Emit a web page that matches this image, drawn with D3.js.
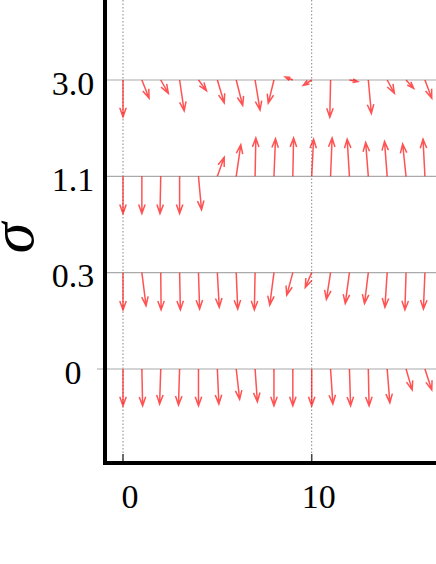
<!DOCTYPE html>
<html><head><meta charset="utf-8">
<script src="https://cdn.jsdelivr.net/npm/d3@7"></script>
<style>html,body{margin:0;padding:0;background:#fff;overflow:hidden}</style>
</head><body>
<svg id="c" width="436" height="564"></svg>
<script>
// Data
const categories = ['3.0', '1.1', '0.3', '0'];
const xPositions = [0, 1, 2, 3, 4, 5, 6, 7, 8, 9, 10, 11, 12, 13, 14, 15, 16];
const xTicks = [0, 10];
const u30 = [0, 0.19, 0.20, 0.12, 0.21, 0.18, 0.17, 0.13, -0.15, -0.20, -0.22, -0.02, 0.22, 0.08, 0.19, 0.20, 0.18];
const v30 = [-0.97, -0.48, -0.35, -0.81, -0.28, -0.60, -0.67, -0.79, -0.61, 0.08, -0.14, -0.98, -0.04, -0.88, -0.35, -0.22, -0.48];
const u11 = [0, 0, -0.02, 0, 0.08, 0.18, 0.12, 0.02, 0.04, 0.02, 0.05, 0.04, -0.06, -0.07, -0.07, -0.09, -0.05];
const v11 = [-0.98, -0.98, -0.98, -0.98, -0.88, 0.50, 0.83, 1.01, 0.99, 1.01, 0.98, 1.01, 0.98, 0.89, 0.92, 0.85, 0.98];
const u03 = [0, 0.11, 0.01, 0.02, 0.03, 0.05, 0.04, -0.02, -0.11, -0.16, -0.17, -0.11, -0.11, -0.10, -0.06, -0.03, -0.04];
const v03 = [-0.98, -0.87, -0.98, -0.98, -0.96, -0.91, -0.96, -0.98, -0.85, -0.59, -0.39, -0.70, -0.81, -0.81, -0.91, -0.98, -0.96];
const u00 = [0, 0.02, -0.03, -0.03, 0, 0.04, 0.09, 0.06, 0, 0, 0, 0.06, 0.03, 0.02, 0.07, 0.16, 0.18];
const v00 = [-0.97, -0.97, -0.92, -0.95, -0.97, -0.92, -0.80, -0.86, -0.97, -0.97, -0.97, -0.92, -0.97, -0.97, -0.89, -0.55, -0.55];
const uRows = [u30, u11, u03, u00];
const vRows = [v30, v11, v03, v00];

const svg = d3.select('#c');
const left = 105, bottom = 463;
const x = d3.scaleLinear().domain([0, 10]).range([123, 311.7]);
const y = d3.scalePoint().domain(categories).range([80, 369]);
const arrowScale = d3.scaleLinear().domain([0, 1]).range([0, 38]);
const font = "'Liberation Serif','Times New Roman',serif";

// vertical dotted grid
svg.append('g').selectAll('line').data(xTicks).join('line')
  .attr('x1', d => x(d)).attr('x2', d => x(d))
  .attr('y1', 0).attr('y2', bottom - 2)
  .attr('stroke', '#888').attr('stroke-width', 1).attr('stroke-dasharray', '1.5,2');

// horizontal row lines
svg.append('g').selectAll('line').data(categories).join('line')
  .attr('x1', d => d === '0' ? 97 : left).attr('x2', 436)
  .attr('y1', d => y(d)).attr('y2', d => y(d))
  .attr('stroke', '#aaa').attr('stroke-width', 1.2);

// arrows
const arrows = [];
categories.forEach((c, i) => {
  xPositions.forEach((xp, j) => {
    arrows.push({c, xp, u: uRows[i][j], v: vRows[i][j]});
  });
});
function arrowPath(d) {
  const x0 = x(d.xp), y0 = y(d.c);
  const dx = arrowScale(d.u), dy = -arrowScale(d.v);
  const x1 = x0 + dx, y1 = y0 + dy;
  const len = Math.hypot(dx, dy);
  if (len < 0.1) return '';
  const ux = dx / len, uy = dy / len;
  const h = Math.min(9, len * 0.6), w = h * 0.36;
  const bx = x1 - ux * h, by = y1 - uy * h;
  return `M${x0},${y0}L${x1},${y1}M${bx - uy * w},${by + ux * w}L${x1},${y1}L${bx + uy * w},${by - ux * w}`;
}
svg.append('g').selectAll('path').data(arrows).join('path')
  .attr('d', arrowPath)
  .attr('fill', 'none').attr('stroke', 'rgba(255,0,0,0.68)').attr('stroke-width', 1.5);

// bottom ticks
svg.append('g').selectAll('line').data(xTicks).join('line')
  .attr('x1', d => x(d)).attr('x2', d => x(d))
  .attr('y1', bottom - 9).attr('y2', bottom)
  .attr('stroke', '#444').attr('stroke-width', 1.5);

// spines
svg.append('line').attr('x1', left).attr('x2', left).attr('y1', 0).attr('y2', bottom + 2)
  .attr('stroke', '#000').attr('stroke-width', 4);
svg.append('line').attr('x1', left - 2).attr('x2', 436).attr('y1', bottom).attr('y2', bottom)
  .attr('stroke', '#000').attr('stroke-width', 4);

// tick labels
svg.append('g').selectAll('text').data(xTicks).join('text')
  .attr('x', d => x(d) + 7).attr('y', 507.5)
  .attr('text-anchor', 'middle').attr('font-family', font).attr('font-size', 34)
  .text(d => d);
svg.append('g').selectAll('text').data(categories).join('text')
  .attr('x', 73).attr('y', d => y(d) + 14.5)
  .attr('text-anchor', 'middle').attr('font-family', font).attr('font-size', 34)
  .text(d => d);

// axis label
svg.append('text')
  .attr('transform', 'translate(33,238) rotate(-90)')
  .attr('text-anchor', 'middle').attr('font-family', font).attr('font-style', 'italic')
  .attr('font-size', 62).text('σ');
</script>
</body></html>
